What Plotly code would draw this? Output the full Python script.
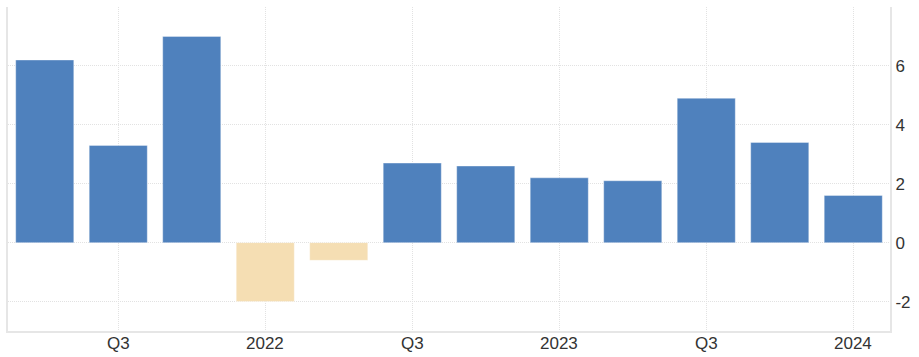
import plotly.graph_objects as go

quarters = ["2021 Q2", "2021 Q3", "2021 Q4", "2022 Q1", "2022 Q2", "2022 Q3",
            "2022 Q4", "2023 Q1", "2023 Q2", "2023 Q3", "2023 Q4", "2024 Q1"]
growth = [6.2, 3.3, 7.0, -2.0, -0.6, 2.7, 2.6, 2.2, 2.1, 4.9, 3.4, 1.6]
tick_idx = [1, 3, 5, 7, 9, 11]
tick_labels = ["Q3", "2022", "Q3", "2023", "Q3", "2024"]
y_ticks = [-2, 0, 2, 4, 6]

pos_color = "#4f81bd"
neg_color = "#f5deb3"

x = list(range(len(quarters)))
colors = [pos_color if v >= 0 else neg_color for v in growth]

fig = go.Figure(go.Bar(
    x=x, y=growth,
    marker=dict(color=colors, line=dict(color="rgba(255,255,255,0.35)", width=1)),
    hovertext=quarters,
))

fig.update_layout(
    width=919, height=357,
    margin=dict(l=8, r=29, t=7, b=26, autoexpand=False),
    paper_bgcolor="white", plot_bgcolor="white",
    bargap=0.21,
    showlegend=False,
    font=dict(family="Arial, Liberation Sans, sans-serif", size=17, color="#333333"),
)
fig.update_xaxes(
    range=[-0.5, 11.5], automargin=False,
    tickmode="array", tickvals=tick_idx, ticktext=tick_labels,
    showticklabels=False,
    showgrid=True, gridcolor="#e2e2e2", griddash="1px,1px", gridwidth=1,
    showline=True, linecolor="#e6e6e6", linewidth=2, mirror=False,
    ticks="", zeroline=False,
)
fig.update_yaxes(
    range=[-3, 8], side="right", automargin=False,
    tickmode="array", tickvals=y_ticks + [8], ticktext=[str(v) for v in y_ticks] + [""],
    showgrid=True, gridcolor="#e2e2e2", griddash="1px,1px", gridwidth=1,
    showline=True, linecolor="#e6e6e6", linewidth=2, mirror=True,
    ticks="", zeroline=False, tickfont=dict(size=17, color="#333333"),
)

for xi, lab in zip(tick_idx, tick_labels):
    fig.add_annotation(
        x=xi, y=0, xref="x", yref="paper", text=lab, showarrow=False,
        yanchor="top", xanchor="center", yshift=-1,
        font=dict(size=17, color="#333333"),
    )

fig.write_html(
    "out.html",
    config={"displayModeBar": False},
    post_script="document.body.style.margin='0';document.body.style.padding='0';",
)
